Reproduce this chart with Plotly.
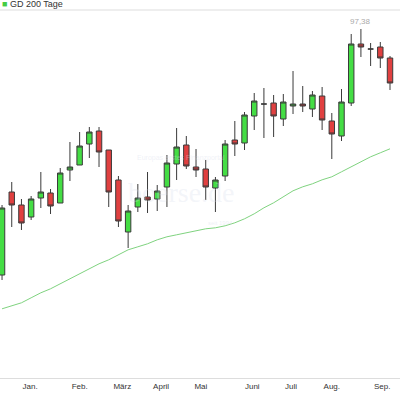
import plotly.graph_objects as go

# weekly candles (index = week number)
OPEN = [72.78, 81.08, 79.78, 78.58, 80.48, 80.98, 79.98, 83.28, 83.78, 85.88,
        87.18, 85.28, 82.28, 77.08, 79.58, 80.58, 80.38, 81.58, 83.88, 85.78,
        83.58, 83.38, 81.48, 82.68, 86.28, 85.98, 88.68, 89.88, 89.98, 88.38,
        89.68, 89.88, 89.38, 90.68, 88.18, 86.68, 89.98, 95.88, 95.38, 95.58, 94.48]
HIGH = [79.78, 82.08, 80.38, 80.68, 83.08, 81.38, 83.48, 86.08, 87.08, 87.58,
        87.58, 85.28, 82.68, 79.78, 81.88, 83.08, 81.78, 84.78, 87.48, 86.68,
        85.38, 84.28, 82.58, 86.28, 88.18, 89.08, 90.98, 91.48, 90.78, 90.88,
        93.18, 91.68, 91.18, 91.58, 88.98, 91.38, 96.88, 97.38, 95.98, 96.08, 94.68]
LOW = [72.28, 77.58, 77.28, 78.28, 79.48, 78.88, 79.98, 82.18, 83.78, 84.48,
       83.58, 79.58, 77.58, 75.48, 79.08, 78.98, 79.18, 79.58, 82.28, 83.38,
       82.58, 80.28, 79.08, 82.18, 84.68, 85.28, 87.28, 86.48, 86.58, 87.68,
       88.88, 89.08, 88.58, 87.28, 84.38, 86.18, 89.68, 94.58, 93.68, 93.48, 91.28]
CLOSE = [79.48, 79.78, 77.98, 80.38, 81.08, 79.68, 82.98, 83.58, 85.68, 87.08,
         85.08, 81.08, 78.18, 79.18, 80.48, 80.28, 81.18, 83.98, 85.58, 83.68,
         83.28, 81.58, 82.28, 85.88, 85.88, 88.78, 90.18, 89.88, 88.68, 90.08,
         89.88, 89.68, 90.78, 88.28, 86.88, 90.08, 95.88, 95.58, 95.38, 94.48, 91.98]
GD200 = [69.4, 69.7, 70.0, 70.5, 71.0, 71.4, 71.9, 72.4, 72.9, 73.4,
         73.9, 74.3, 74.8, 75.3, 75.6, 75.9, 76.3, 76.6, 76.8, 77.0,
         77.2, 77.4, 77.5, 77.7, 78.0, 78.4, 78.9, 79.5, 80.0, 80.6,
         81.2, 81.6, 81.9, 82.3, 82.6, 83.1, 83.6, 84.1, 84.6, 85.0, 85.4]
MONTHS = ["Jan.", "Feb.", "März", "April", "Mai", "Juni", "Juli", "Aug.", "Sep."]
MONTH_POS = [2.9, 8.0, 12.4, 16.4, 20.5, 25.8, 29.8, 34.0, 39.2]

weeks = list(range(len(OPEN)))

fig = go.Figure()
fig.add_trace(go.Scatter(x=weeks, y=GD200, mode="lines",
                         line={"color": "#7fd37f", "width": 1}, hoverinfo="skip"))
fig.add_trace(go.Candlestick(
    x=weeks, open=OPEN, high=HIGH, low=LOW, close=CLOSE,
    increasing={"fillcolor": "#44dd44", "line": {"color": "#3a3a3a", "width": 1}},
    decreasing={"fillcolor": "#e04040", "line": {"color": "#3a3a3a", "width": 1}},
    whiskerwidth=0, hoverinfo="skip",
))

hi = max(HIGH)
fig.add_annotation(x=HIGH.index(hi), y=hi, text=f"{hi:.2f}".replace(".", ","),
                   showarrow=False, yanchor="bottom", yshift=1,
                   font={"size": 8, "color": "#aaaaaa", "family": "Arial"})
fig.add_annotation(x=0.0, y=1.0, xref="paper", yref="paper", yanchor="bottom",
                   xanchor="left", showarrow=False, yshift=-1,
                   text="<span style='color:#44cc44'>■</span> GD 200 Tage",
                   font={"size": 9, "color": "#333333", "family": "Arial"})
# faint watermark
fig.add_annotation(x=18.5, y=81.0, text="boerse.de", showarrow=False,
                   font={"size": 28, "color": "rgba(215,222,235,0.3)", "family": "Arial Black"})
fig.add_annotation(x=18.5, y=84.5, text="Europas erstes Finanzportal", showarrow=False,
                   font={"size": 7, "color": "rgba(215,222,235,0.4)", "family": "Arial"})
fig.add_annotation(x=22.5, y=78.0, text="seit 1994", showarrow=False,
                   font={"size": 6, "color": "rgba(215,222,235,0.45)", "family": "Arial"})

fig.add_shape(type="line", xref="paper", yref="paper", x0=0, x1=1, y0=1, y1=1,
              line={"color": "#dddddd", "width": 1})

fig.update_layout(
    width=400, height=400, showlegend=False, boxgap=0.2,
    margin={"l": 0, "r": 0, "t": 10, "b": 22, "autoexpand": False},
    paper_bgcolor="#ffffff", plot_bgcolor="#ffffff",
    xaxis={"range": [-0.21, 41.03], "tickvals": MONTH_POS, "ticktext": MONTHS,
           "showgrid": False, "zeroline": False, "showline": True,
           "linecolor": "#dddddd", "ticks": "", "rangeslider": {"visible": False},
           "automargin": False,
           "tickfont": {"size": 8, "color": "#333333", "family": "Arial"}},
    yaxis={"range": [62.48, 99.28], "visible": False, "showgrid": False, "automargin": False},
)
fig.write_html(
    "out.html",
    config={"displayModeBar": False},
    post_script="document.body.style.margin='0';document.body.style.overflow='hidden';",
)
